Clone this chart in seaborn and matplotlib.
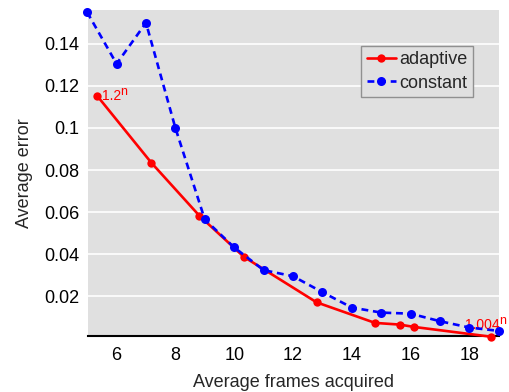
import matplotlib
matplotlib.use("Agg")
import matplotlib.pyplot as plt
import seaborn as sns
import pandas as pd

adaptive_x = [5.35, 7.18, 8.82, 10.33, 12.8, 14.79, 15.63, 16.11, 18.75]
adaptive_y = [0.1151, 0.0835, 0.0582, 0.0387, 0.0171, 0.0073, 0.0065, 0.0054, 0.0007]
constant_x = [5, 6, 7, 8, 9, 10, 11, 12, 13, 14, 15, 16, 17, 18, 19]
constant_y = [0.155, 0.1305, 0.150, 0.100, 0.0565, 0.0432, 0.0324, 0.0295, 0.0219,
              0.0146, 0.0122, 0.0117, 0.0081, 0.0051, 0.0035]
x_ticks = [6, 8, 10, 12, 14, 16, 18]
y_ticks = [0.02, 0.04, 0.06, 0.08, 0.1, 0.12, 0.14]
y_tick_labels = ["0.02", "0.04", "0.06", "0.08", "0.1", "0.12", "0.14"]

df_a = pd.DataFrame({"x": adaptive_x, "y": adaptive_y})
df_c = pd.DataFrame({"x": constant_x, "y": constant_y})

sns.set_theme(style="darkgrid")
plt.rcParams["font.family"] = ["Liberation Sans", "DejaVu Sans"]

fig = plt.figure(figsize=(5.09, 3.92), dpi=100)
ax = fig.add_axes([0.173, 0.143, 0.807, 0.831])
ax.set_facecolor("#e0e0e0")

sns.lineplot(data=df_a, x="x", y="y", ax=ax, color="red", linewidth=1.9,
             marker="o", markersize=6, markeredgewidth=0, label="adaptive",
             clip_on=False, zorder=3)
sns.lineplot(data=df_c, x="x", y="y", ax=ax, color="blue", linewidth=1.9,
             linestyle=(0, (2.6, 1.8)), marker="o", markersize=6.5, markeredgewidth=0,
             label="constant", clip_on=False, zorder=4)

ax.set_xlim(5.03, 19.0)
ax.set_ylim(0.0011, 0.156)
ax.set_xticks(x_ticks)
ax.set_yticks(y_ticks)
ax.set_yticklabels(y_tick_labels)
ax.grid(axis="y", color="white", linewidth=1.2)
ax.grid(axis="x", visible=False)
ax.tick_params(axis="y", labelsize=13, length=0, pad=6, colors="black")
ax.tick_params(axis="x", labelsize=13, length=0, pad=8, colors="black")
ax.set_xlabel("Average frames acquired", fontsize=13, labelpad=7)
ax.set_ylabel("Average error", fontsize=13, labelpad=8)

for s in ["left", "right", "top"]:
    ax.spines[s].set_visible(False)
ax.spines["bottom"].set_visible(True)
ax.spines["bottom"].set_color("black")
ax.spines["bottom"].set_linewidth(1.5)

t1 = ax.text(5.5, 0.1151, "1.2", color="red", fontsize=10,
             va="center", ha="left")
ax.annotate("n", xy=(1, 1), xycoords=t1, xytext=(-0.5, 2.5), textcoords="offset points",
            color="red", fontsize=9, va="top", ha="left")
t2 = ax.text(17.85, 0.0063, "1.004", color="red", fontsize=10,
             va="center", ha="left", clip_on=False)
ax.annotate("n", xy=(1, 1), xycoords=t2, xytext=(-0.5, 2.5), textcoords="offset points",
            color="red", fontsize=9, va="top", ha="left", annotation_clip=False)

leg = ax.legend(loc="upper right", bbox_to_anchor=(0.937, 0.89), fontsize=13,
                frameon=True, fancybox=False, handlelength=1.6, handletextpad=0.2,
                borderpad=0.3, labelspacing=0.35, borderaxespad=0)
leg.get_frame().set_facecolor("#e0e0e0")
leg.get_frame().set_edgecolor("#909090")
leg.get_frame().set_linewidth(1)
leg.get_frame().set_alpha(1)

fig.savefig("out.png", dpi=100)
